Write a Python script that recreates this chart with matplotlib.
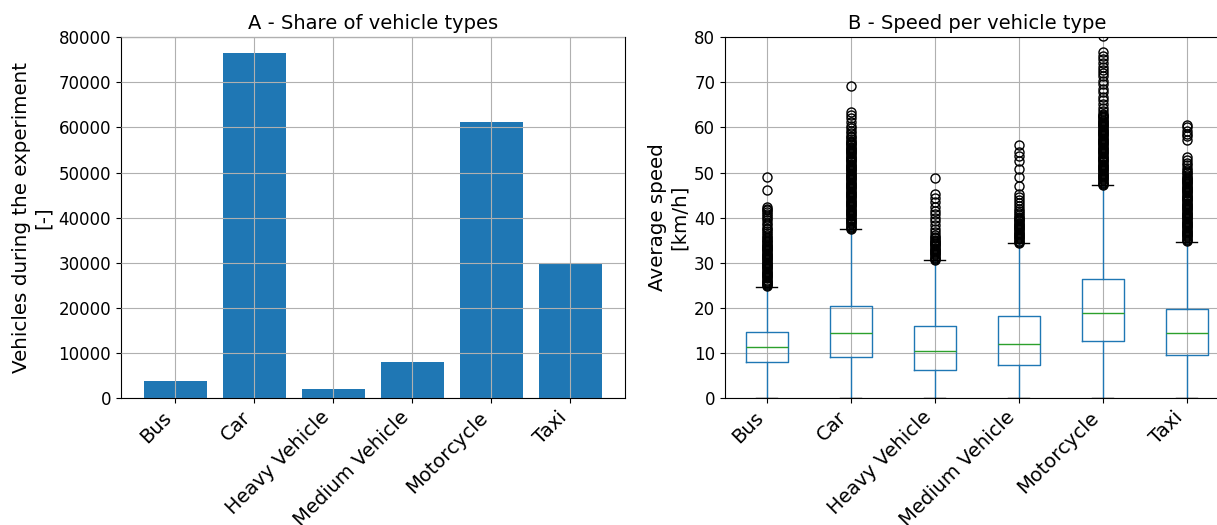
import matplotlib
matplotlib.use("Agg")
import matplotlib.pyplot as plt

categories = ["Bus", "Car", "Heavy Vehicle", "Medium Vehicle", "Motorcycle", "Taxi"]
vehicle_counts = [3720, 76430, 2010, 8040, 61100, 29840]

# box statistics (km/h)
q1 = [7.9, 9.0, 6.3, 7.4, 12.6, 9.5]
medians = [11.2, 14.3, 10.5, 12.05, 18.9, 14.3]
q3 = [14.7, 20.4, 16.0, 18.2, 26.4, 19.7]
whis_lo = [0.0, 0.0, 0.0, 0.0, 0.0, 0.0]
whis_hi = [24.7, 37.4, 30.5, 34.3, 47.2, 34.7]

# outliers (dense parts of the columns read as closely spaced values)
bus_fliers = [24.75, 25.0, 25.25, 25.5, 25.75, 26.0, 26.25, 26.5, 26.75, 27.0, 27.25, 27.5,
              27.75, 28.0, 28.25, 28.5, 28.75, 29.0, 29.25, 29.5, 29.75, 30.0, 30.25, 30.5,
              30.75, 31.0, 31.25, 31.5, 31.75, 32.0, 32.25, 32.5, 32.75, 33.0, 33.25, 33.5,
              33.75, 34.0, 34.25, 34.5, 34.75, 35.0, 35.4, 35.8, 36.2, 36.6, 37.0, 37.4,
              37.8, 38.3, 38.8, 39.4, 39.9, 40.4, 40.9, 41.3, 41.7, 42.0, 42.3, 46.2, 48.9]
car_fliers = [37.5, 37.75, 38.0, 38.25, 38.5, 38.75, 39.0, 39.25, 39.5, 39.75, 40.0, 40.25,
              40.5, 40.75, 41.0, 41.25, 41.5, 41.75, 42.0, 42.25, 42.5, 42.75, 43.0, 43.25,
              43.5, 43.75, 44.0, 44.25, 44.5, 44.75, 45.0, 45.25, 45.5, 45.75, 46.0, 46.25,
              46.5, 46.75, 47.0, 47.25, 47.5, 47.75, 48.0, 48.25, 48.5, 48.75, 49.0, 49.25,
              49.5, 49.75, 50.0, 50.25, 50.5, 50.75, 51.0, 51.25, 51.5, 51.75, 52.0, 52.25,
              52.5, 52.75, 53.0, 53.25, 53.5, 53.75, 54.0, 54.25, 54.5, 54.75, 55.0, 55.25,
              55.5, 55.75, 56.0, 56.25, 56.5, 56.75, 57.0, 57.4, 57.8, 58.2, 58.7, 59.2,
              59.8, 60.4, 61.2, 62.0, 62.8, 63.5, 69.3]
heavy_fliers = [30.6, 30.85, 31.1, 31.35, 31.6, 31.85, 32.1, 32.35, 32.6, 32.85, 33.1, 33.35,
                33.6, 33.85, 34.1, 34.35, 34.6, 34.85, 35.1, 35.4, 35.8, 36.2, 36.8, 37.5,
                38.3, 39.2, 40.0, 40.8, 41.5, 42.4, 43.4, 44.3, 45.2, 48.7]
medium_fliers = [34.4, 34.65, 34.9, 35.15, 35.4, 35.65, 35.9, 36.15, 36.4, 36.65, 36.9, 37.15,
                 37.4, 37.65, 37.9, 38.15, 38.4, 38.65, 38.9, 39.15, 39.4, 39.65, 39.9, 40.2,
                 40.6, 41.0, 41.5, 42.0, 42.5, 43.2, 44.0, 44.6, 45.3, 47.1, 49.0, 50.8,
                 52.6, 53.6, 54.6, 56.2]
moto_fliers = [47.25, 47.5, 47.75, 48.0, 48.25, 48.5, 48.75, 49.0, 49.25, 49.5, 49.75, 50.0,
               50.25, 50.5, 50.75, 51.0, 51.25, 51.5, 51.75, 52.0, 52.25, 52.5, 52.75, 53.0,
               53.25, 53.5, 53.75, 54.0, 54.25, 54.5, 54.75, 55.0, 55.25, 55.5, 55.75, 56.0,
               56.25, 56.5, 56.75, 57.0, 57.25, 57.5, 57.75, 58.0, 58.25, 58.5, 58.75, 59.0,
               59.25, 59.5, 59.75, 60.0, 60.25, 60.5, 60.75, 61.0, 61.25, 61.5, 61.75, 62.0,
               62.25, 62.5, 62.75, 63.0, 63.6, 64.4, 65.2, 66.0, 66.7, 67.8, 68.6, 69.6,
               70.4, 71.3, 72.1, 72.8, 73.5, 74.3, 75.1, 75.9, 76.7, 80.2]
taxi_fliers = [34.85, 35.1, 35.35, 35.6, 35.85, 36.1, 36.35, 36.6, 36.85, 37.1, 37.35, 37.6,
               37.85, 38.1, 38.35, 38.6, 38.85, 39.1, 39.35, 39.6, 39.85, 40.1, 40.35, 40.6,
               40.85, 41.1, 41.35, 41.6, 41.85, 42.1, 42.35, 42.6, 42.85, 43.1, 43.35, 43.6,
               43.85, 44.1, 44.35, 44.6, 44.85, 45.1, 45.35, 45.6, 45.85, 46.1, 46.35, 46.6,
               46.85, 47.1, 47.35, 47.6, 47.85, 48.1, 48.35, 48.6, 48.85, 49.1, 49.4, 49.8,
               50.2, 50.6, 51.0, 51.6, 52.2, 52.8, 53.4, 57.3, 58.0, 58.6, 59.3, 60.0, 60.5]
fliers = [bus_fliers, car_fliers, heavy_fliers, medium_fliers, moto_fliers, taxi_fliers]

fig = plt.figure(figsize=(12.17, 5.25), dpi=100)
ax1 = fig.add_axes([0.0994, 0.242, 0.414, 0.687])
ax2 = fig.add_axes([0.5957, 0.242, 0.414, 0.687])

# ---- A: bar chart ----
ax1.bar(categories, vehicle_counts, width=0.8, color="#1f77b4", zorder=2)
ax1.set_ylim(0, 80000)
ax1.grid(True, zorder=0)
ax1.set_axisbelow(False)
ax1.set_title("A - Share of vehicle types", fontsize=14)
ax1.set_ylabel("Vehicles during the experiment\n[-]", fontsize=14.3)
ax1.tick_params(axis="y", labelsize=12)
ax1.tick_params(axis="x", labelsize=14)
plt.setp(ax1.get_xticklabels(), rotation=45, ha="right")

# ---- B: box plot from precomputed stats ----
stats = []
for i, name in enumerate(categories):
    stats.append(dict(label=name, q1=q1[i], med=medians[i], q3=q3[i],
                      whislo=whis_lo[i], whishi=whis_hi[i], fliers=fliers[i]))
ax2.bxp(stats, widths=0.5, showfliers=True,
        boxprops=dict(color="#1f77b4"),
        whiskerprops=dict(color="#1f77b4"),
        medianprops=dict(color="#2ca02c"),
        capprops=dict(color="black"),
        flierprops=dict(marker="o", markerfacecolor="none", markeredgecolor="black", markersize=6.5))
ax2.set_ylim(0, 80)
ax2.set_xlim(0.5, 6.5)
ax2.grid(True)
ax2.set_title("B - Speed per vehicle type", fontsize=14)
ax2.set_ylabel("Average speed\n[km/h]", fontsize=14.3)
ax2.tick_params(axis="y", labelsize=12)
ax2.tick_params(axis="x", labelsize=14)
plt.setp(ax2.get_xticklabels(), rotation=45, ha="right")

fig.savefig("out.png", dpi=100)
